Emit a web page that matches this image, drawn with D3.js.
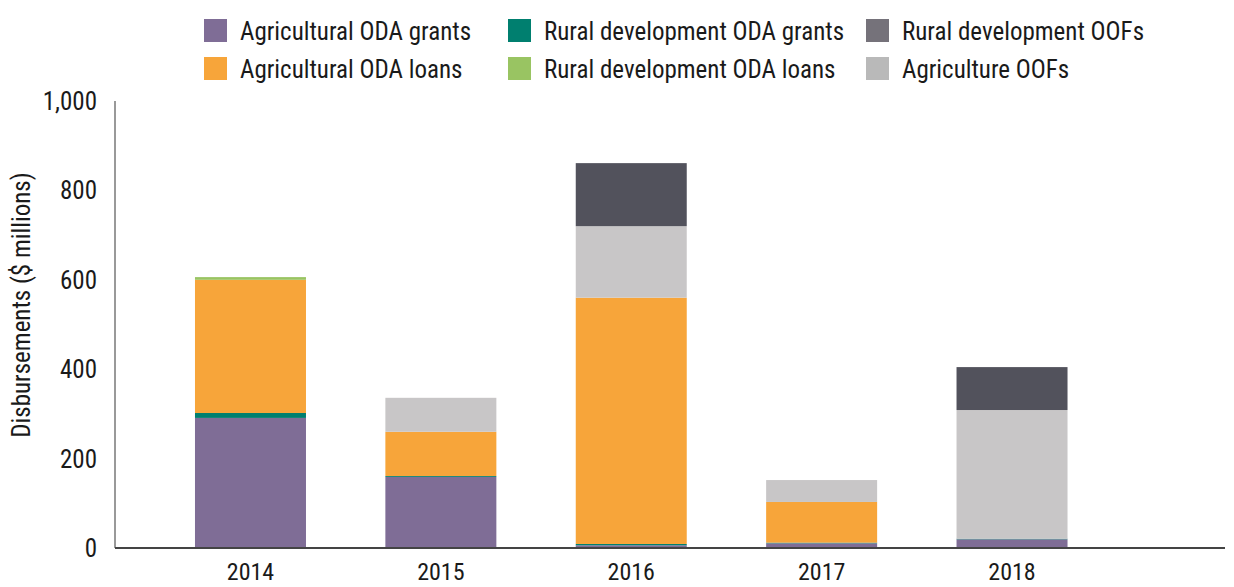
<!DOCTYPE html>
<html><head><meta charset="utf-8">
<script src="https://cdn.jsdelivr.net/npm/d3@7"></script>
<style>
body{margin:0;background:#fff;}
text{font-family:"Liberation Sans Narrow","Arial Narrow","Roboto Condensed",sans-serif;fill:#1a1a1a;}
</style></head>
<body><svg id="c" width="1234" height="587"></svg>
<script>
const years = ["2014","2015","2016","2017","2018"];
const seriesNames = ["Agricultural ODA grants","Rural development ODA grants","Agricultural ODA loans","Rural development ODA loans","Agriculture OOFs","Rural development OOFs"];
const agOdaGrants   = [291, 159, 6, 10.5, 19.5];
const ruralOdaGrants= [11, 2, 3, 1.5, 1.2];
const agOdaLoans    = [298, 99, 551, 91, 0];
const ruralOdaLoans = [6, 0, 0, 0, 0];
const agOofs        = [0, 76, 160, 49, 288];
const ruralOofs     = [0, 0, 141, 0, 96];
const barColors   = ["#7f6d96","#007f6f","#f7a53a","#99c462","#c8c6c7","#52525c"];
const legendColors= ["#7f6d96","#007f6f","#75727a","#f7a53a","#99c462","#b9b9b9"];
const legendOrder = [0,1,5,2,3,4];
const yTicks = [0,200,400,600,800,1000];

const seriesValues = [agOdaGrants, ruralOdaGrants, agOdaLoans, ruralOdaLoans, agOofs, ruralOofs];
const table = years.map((y,i)=>{const o={year:y}; seriesNames.forEach((s,j)=>o[s]=seriesValues[j][i]); return o;});
const stacked = d3.stack().keys(seriesNames)(table);

const svg = d3.select("#c");
const x0 = 115, x1 = 1225, yTop = 101, yBot = 548;
const x = d3.scaleBand().domain(years).range([155, 1107.5]).paddingInner(0.417).paddingOuter(0.21);
const y = d3.scaleLinear().domain([0,1000]).range([yBot, yTop]);

svg.append("g").selectAll("g").data(stacked).join("g")
  .attr("fill",(d,i)=>barColors[i])
  .selectAll("rect").data(d=>d).join("rect")
  .attr("x",d=>x(d.data.year)).attr("width",x.bandwidth())
  .attr("y",d=>y(d[1])).attr("height",d=>Math.max(0,y(d[0])-y(d[1])));

svg.append("line").attr("x1",x0).attr("x2",x0).attr("y1",yTop).attr("y2",yBot).attr("stroke","#555").attr("stroke-width",1.2);
svg.append("line").attr("x1",x0).attr("x2",x1).attr("y1",yBot).attr("y2",yBot).attr("stroke","#444").attr("stroke-width",2);

svg.append("g").selectAll("text").data(yTicks).join("text")
  .attr("x",97).attr("y",d=>y(d)).attr("dy","0.36em").attr("text-anchor","end")
  .style("font-size","25px").text(d=>d3.format(",")(d));

svg.append("g").selectAll("text").data(years).join("text")
  .attr("x",d=>x(d)+x.bandwidth()/2).attr("y",580).attr("text-anchor","middle")
  .style("font-size","24px").text(d=>d);

svg.append("text").attr("transform","translate(30,305) rotate(-90)").attr("text-anchor","middle")
  .style("font-size","25px").text("Disbursements ($ millions)");

const colX = [204, 508, 866];
const rowY = [31, 69];
const lg = svg.append("g").selectAll("g").data(legendOrder).join("g")
  .attr("transform",(d,i)=>`translate(${colX[i%3]},${rowY[Math.floor(i/3)]})`);
lg.append("rect").attr("x",0).attr("y",-12).attr("width",23).attr("height",23).attr("fill",d=>legendColors[legendOrder.indexOf(d)]);
lg.append("text").attr("x",36).attr("y",0).attr("dy","0.36em").style("font-size","25px").text(d=>seriesNames[d]);
</script></body></html>
